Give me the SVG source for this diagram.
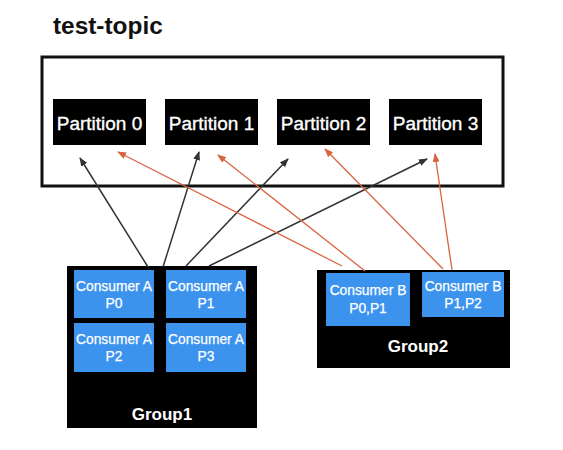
<svg xmlns="http://www.w3.org/2000/svg" width="563" height="450" viewBox="0 0 563 450">
<style>
.title{font-family:"Liberation Sans",Arial,sans-serif;font-weight:bold;font-size:24.4px;fill:#111}
.part rect{fill:#000}
.part text{font-family:"Liberation Sans",Arial,sans-serif;font-size:19px;fill:#fff;text-anchor:middle;stroke:#fff;stroke-width:0.35}
.cons rect{fill:#3b93ee}
.cons text{font-family:"Liberation Sans",Arial,sans-serif;font-size:13.8px;fill:#fff;text-anchor:middle;stroke:#fff;stroke-width:0.25}
.grp rect.bg{fill:#000}
.grp text.lbl{font-family:"Liberation Sans",Arial,sans-serif;font-weight:bold;font-size:17px;fill:#fff;text-anchor:middle}
.blk{stroke:#333;stroke-width:1.5;fill:none;marker-end:url(#ab)}
.org{stroke:#d8643f;stroke-width:1.3;fill:none;marker-end:url(#ao)}
</style>
<defs>
<marker id="ab" markerUnits="userSpaceOnUse" markerWidth="9" markerHeight="7" refX="8" refY="3.5" orient="auto"><path d="M0,0 L9,3.5 L0,7 z" fill="#333"/></marker>
<marker id="ao" markerUnits="userSpaceOnUse" markerWidth="9" markerHeight="7" refX="8" refY="3.5" orient="auto"><path d="M0,0 L9,3.5 L0,7 z" fill="#d8643f"/></marker>
</defs>
<rect width="563" height="450" fill="#fff"/>
<text class="title" x="53" y="34">test-topic</text>
<g id="topic"><rect x="42" y="57" width="461" height="129" fill="none" stroke="#111" stroke-width="3"/></g>
<g id="p0" class="part"><rect x="53" y="99" width="93" height="46"/><text x="99.5" y="130">Partition 0</text></g>
<g id="p1" class="part"><rect x="165" y="99" width="93" height="46"/><text x="211.5" y="130">Partition 1</text></g>
<g id="p2" class="part"><rect x="277" y="99" width="93" height="46"/><text x="323.5" y="130">Partition 2</text></g>
<g id="p3" class="part"><rect x="389" y="99" width="93" height="46"/><text x="435.5" y="130">Partition 3</text></g>
<g id="group1" class="grp"><rect class="bg" x="67" y="266" width="190" height="162"/><text class="lbl" x="162" y="420">Group1</text></g>
<g id="ca0" class="cons"><rect x="74" y="270" width="80" height="48"/><text x="114" y="291">Consumer A</text><text x="114" y="308">P0</text></g>
<g id="ca1" class="cons"><rect x="166" y="270" width="80" height="48"/><text x="206" y="291">Consumer A</text><text x="206" y="308">P1</text></g>
<g id="ca2" class="cons"><rect x="74" y="323" width="80" height="49"/><text x="114" y="344">Consumer A</text><text x="114" y="361">P2</text></g>
<g id="ca3" class="cons"><rect x="166" y="323" width="80" height="49"/><text x="206" y="344">Consumer A</text><text x="206" y="361">P3</text></g>
<g id="group2" class="grp"><rect class="bg" x="317" y="270" width="193" height="98"/><text class="lbl" x="418" y="352">Group2</text></g>
<g id="cb0" class="cons"><rect x="326" y="273" width="84" height="53"/><text x="368" y="295">Consumer B</text><text x="368" y="313">P0,P1</text></g>
<g id="cb1" class="cons"><rect x="422" y="272" width="82" height="45"/><text x="463" y="291">Consumer B</text><text x="463" y="308">P1,P2</text></g>
<g id="connectors">
<line class="blk" x1="148" y1="267" x2="80" y2="158"/>
<line class="blk" x1="163" y1="267" x2="199" y2="152"/>
<line class="blk" x1="186" y1="266" x2="288" y2="159"/>
<line class="blk" x1="209" y1="266" x2="427" y2="159"/>
<line class="org" x1="342" y1="266" x2="118" y2="152"/>
<line class="org" x1="365" y1="271" x2="218" y2="155"/>
<line class="org" x1="443" y1="269" x2="325" y2="149"/>
<line class="org" x1="452" y1="270" x2="435" y2="154"/>
</g>
</svg>
